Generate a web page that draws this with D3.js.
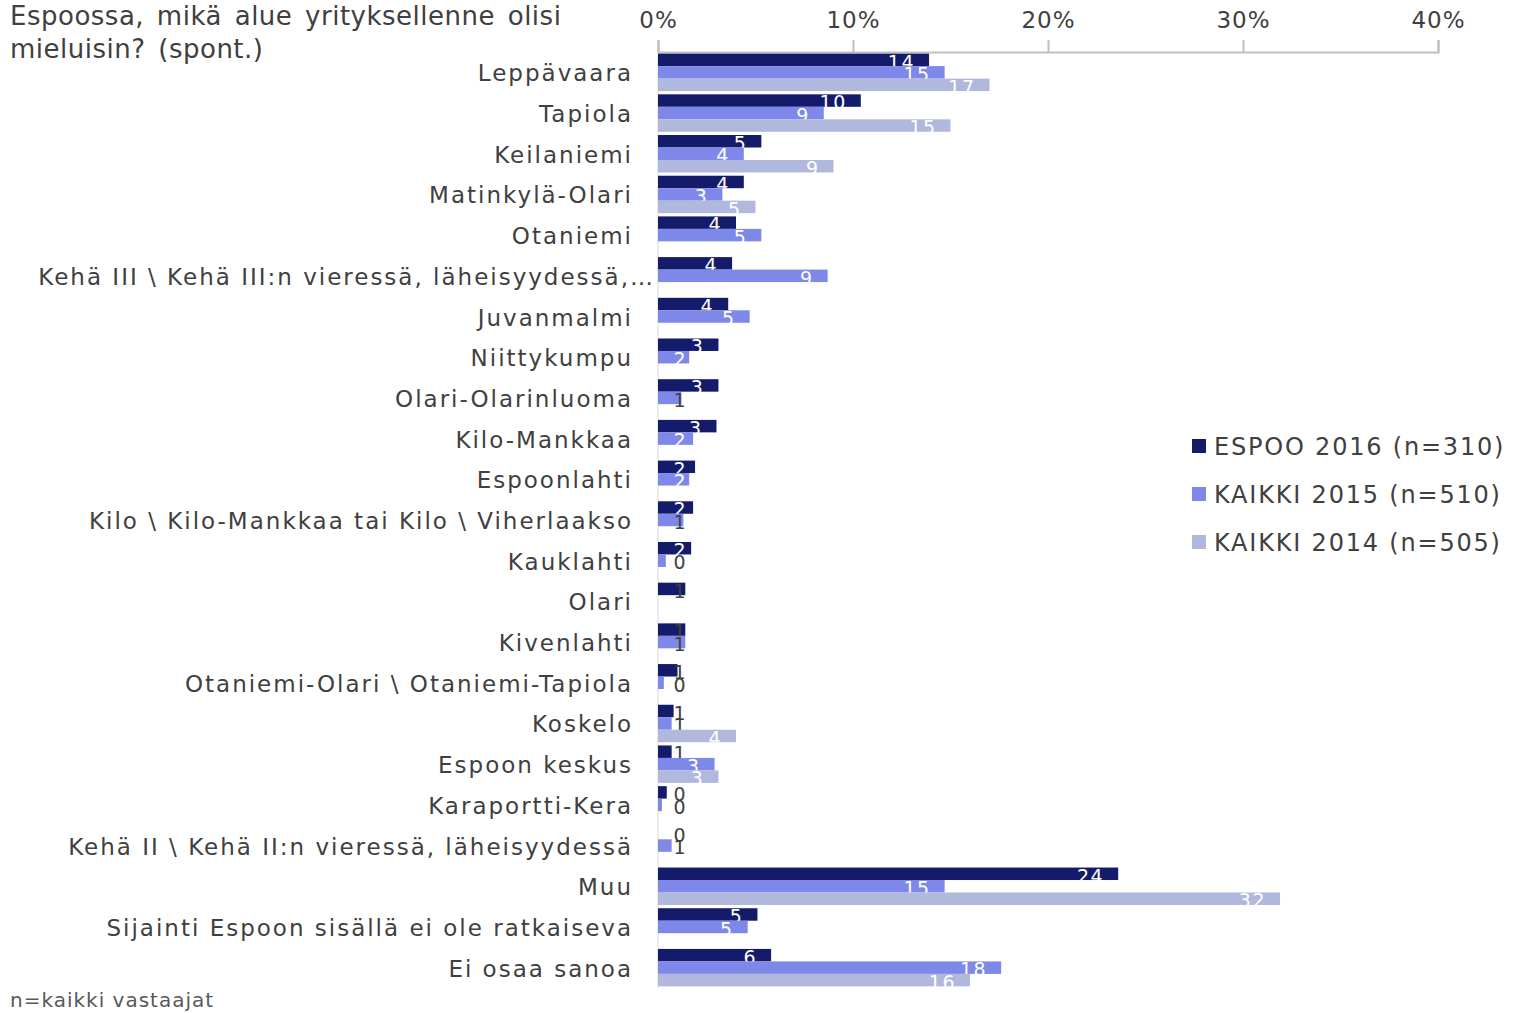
<!DOCTYPE html>
<html>
<head>
<meta charset="utf-8">
<script src="https://cdn.jsdelivr.net/npm/d3@7"></script>
<style>
  html, body { margin: 0; padding: 0; background: #ffffff; }
  svg { display: block; }
  text { font-family: "DejaVu Sans", Verdana, sans-serif; }
</style>
</head>
<body>
<svg id="chart" width="1513" height="1013"></svg>
<script>
const categories = [
  "Leppävaara", "Tapiola", "Keilaniemi", "Matinkylä-Olari", "Otaniemi",
  "Kehä III \\ Kehä III:n vieressä, läheisyydessä,…", "Juvanmalmi", "Niittykumpu",
  "Olari-Olarinluoma", "Kilo-Mankkaa", "Espoonlahti",
  "Kilo \\ Kilo-Mankkaa tai Kilo \\ Viherlaakso", "Kauklahti", "Olari", "Kivenlahti",
  "Otaniemi-Olari \\ Otaniemi-Tapiola", "Koskelo", "Espoon keskus", "Karaportti-Kera",
  "Kehä II \\ Kehä II:n vieressä, läheisyydessä", "Muu",
  "Sijainti Espoon sisällä ei ole ratkaiseva", "Ei osaa sanoa"
];
const seriesNames = ["ESPOO 2016 (n=310)", "KAIKKI 2015 (n=510)", "KAIKKI 2014 (n=505)"];
const espoo2016 = [13.9, 10.4, 5.3, 4.4, 4.0, 3.8, 3.6, 3.1, 3.1, 3.0, 1.9, 1.8, 1.7, 1.4, 1.4, 1.0, 0.8, 0.7, 0.45, 0.0, 23.6, 5.1, 5.8];
const kaikki2015 = [14.7, 8.5, 4.4, 3.3, 5.3, 8.7, 4.7, 1.6, 1.2, 1.8, 1.6, 1.3, 0.4, null, 1.4, 0.3, 0.7, 2.9, 0.2, 0.7, 14.7, 4.6, 17.6];
const kaikki2014 = [17.0, 15.0, 9.0, 5.0, null, null, null, null, null, null, null, null, null, null, null, null, 4.0, 3.1, null, null, 31.9, null, 16.0];
const xTicks = [0, 10, 20, 30, 40];
const titleLines = ["Espoossa, mikä alue yrityksellenne olisi", "mieluisin? (spont.)"];
const footnote = "n=kaikki vastaajat";

const colors = ["#151b6b", "#7e88e8", "#b1b8de"];
const seriesValues = [espoo2016, kaikki2015, kaikki2014];

const svg = d3.select("#chart");
const textColor = "#404040";

const x = d3.scaleLinear().domain([0, 40]).range([658, 1438]);
const y = d3.scaleBand().domain(categories).range([52, 988]).paddingInner(0.08).paddingOuter(0.04);
const ySub = d3.scaleBand().domain(d3.range(3)).range([0, y.bandwidth()]).padding(0);

// Title
svg.append("g").selectAll("text").data(titleLines).join("text")
  .attr("x", 10).attr("y", (d, i) => 25 + i * 33)
  .attr("font-size", 26).attr("fill", textColor)
  .attr("letter-spacing", 0.5)
  .attr("word-spacing", 4)
  .text(d => d);

// Top axis
const axis = d3.axisTop(x).tickValues(xTicks).tickFormat(d => d + "%").tickSize(12).tickPadding(12);
const gAxis = svg.append("g").attr("transform", "translate(0,52)").call(axis);
gAxis.select(".domain").attr("stroke", "#bfbfbf").attr("stroke-width", 2);
gAxis.selectAll(".tick line").attr("stroke", "#bfbfbf").attr("stroke-width", 2);
gAxis.selectAll(".tick text").attr("fill", textColor).attr("font-size", 23)
  .attr("letter-spacing", 1)
  .attr("font-family", "DejaVu Sans, Verdana, sans-serif");

// vertical baseline
svg.append("line").attr("x1", x(0)).attr("x2", x(0)).attr("y1", 52).attr("y2", 988)
  .attr("stroke", "#d9d9d9").attr("stroke-width", 1);

// Category labels
svg.append("g").selectAll("text").data(categories).join("text")
  .attr("x", (d, i) => i === 5 ? 655 : 633)
  .attr("y", d => y(d) + y.bandwidth() / 2 + 9)
  .attr("text-anchor", "end")
  .attr("font-size", 23).attr("fill", textColor)
  .attr("letter-spacing", 2)
  .text(d => d);

// Bars + labels per series
seriesValues.forEach((vals, s) => {
  const data = categories.map((c, i) => ({ c, v: vals[i] })).filter(d => d.v !== null);
  const g = svg.append("g");
  g.selectAll("rect").data(data).join("rect")
    .attr("x", x(0))
    .attr("y", d => y(d.c) + ySub(s))
    .attr("width", d => x(d.v) - x(0))
    .attr("height", ySub.bandwidth())
    .attr("fill", colors[s]);
  g.selectAll("text").data(data).join("text")
    .attr("x", d => Math.max(x(d.v) - 14, 687))
    .attr("y", d => y(d.c) + ySub(s) + ySub.bandwidth() + 2.5)
    .attr("text-anchor", "end")
    .attr("font-size", 19)
    .attr("letter-spacing", 1.5)
    .attr("fill", d => d.v >= 1.5 ? "#ffffff" : textColor)
    .text(d => Math.round(d.v));
});

// Legend
const leg = svg.append("g").selectAll("g").data(seriesNames).join("g")
  .attr("transform", (d, i) => `translate(1192, ${446 + i * 48})`);
leg.append("rect").attr("x", 0).attr("y", -7).attr("width", 14).attr("height", 14)
  .attr("fill", (d, i) => colors[i]);
leg.append("text").attr("x", 22).attr("y", 9).attr("font-size", 24)
  .attr("fill", textColor).attr("letter-spacing", 1.8).text(d => d);

// Footnote
svg.append("text").attr("x", 10).attr("y", 1007).attr("font-size", 20)
  .attr("fill", "#595959").attr("letter-spacing", 1).text(footnote);
</script>
</body>
</html>
